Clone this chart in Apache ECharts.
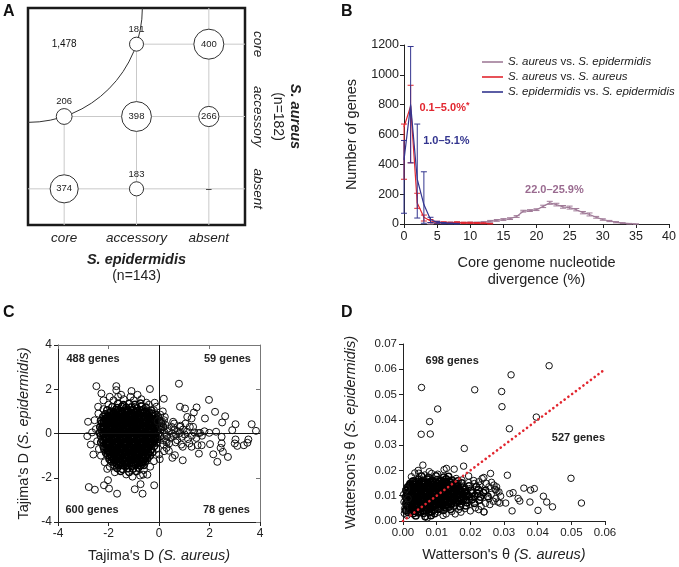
<!DOCTYPE html>
<html><head><meta charset="utf-8">
<script src="https://cdn.jsdelivr.net/npm/echarts@6/dist/echarts.min.js"></script>
<style>html,body{margin:0;padding:0;background:#fff}#c{width:679px;height:567px}</style>
</head><body><div id="c"></div>
<script>
// ---------- Panel A ----------
const aXCats = ['core', 'accessory', 'absent'];
const aYCats = ['absent', 'accessory', 'core'];
const aCircles = [
  ['accessory', 'core', 181], ['absent', 'core', 400],
  ['core', 'accessory', 206], ['accessory', 'accessory', 398], ['absent', 'accessory', 266],
  ['core', 'absent', 374], ['accessory', 'absent', 183]
];
const aPlain = [['core', 'core', '1,478'], ['absent', 'absent', '–']];

// ---------- Panel B : [x, mean, low, high] ----------
const bPurple = [[4,4,0,8],[5,8,3,13],[6,8,3,12],[7,9,4,13],[8,9,4,13],[9,7,3,11],[10,9,4,13],[11,9,4,13],[12,12,6,17],[13,18,12,24],[14,24,18,30],[15,30,24,36],[16,36,30,42],[17,50,44,56],[18,86,80,92],[19,90,84,96],[20,96,90,102],[21,118,110,126],[22,142,132,152],[23,130,121,139],[24,115,106,124],[25,110,100,120],[26,96,88,104],[27,76,68,84],[28,64,54,74],[29,45,39,51],[30,30,25,35],[31,20,16,24],[32,12,8,16],[33,6,3,9],[34,2,0,4],[35,0,0,0]];
const bRed = [[0,650,300,670],[1,790,410,930],[2,140,105,206],[3,45,20,60],[4,20,10,30],[5,12,6,18],[6,10,5,15],[7,8,4,12],[8,10,5,15],[9,8,4,12],[10,8,4,12],[11,6,3,10],[12,5,2,8],[13,2,0,4]];
const bBlue = [[0,430,72,560],[1,800,410,1190],[2,300,40,670],[3,130,5,350],[4,30,10,45],[5,12,5,18],[6,6,2,10],[7,4,1,6],[8,2,0,4]];
const bNames = ['S. aureus vs. S. epidermidis', 'S. aureus vs. S. aureus', 'S. epidermidis vs. S. epidermidis'];
const bNotes = [['0.1–5.0%{s|*}', 6.1, 778], ['1.0–5.1%', 6.4, 557], ['22.0–25.9%', 22.7, 228]];

// ---------- Panel C ----------
const cNotes = [['488 genes', -2.61, 3.37], ['59 genes', 2.71, 3.37], ['600 genes', -2.65, -3.46], ['78 genes', 2.67, -3.46]];
const cBlob = [
[-1.62,1.35],[-1.41,1.29],[-1.18,1.34],[-0.95,1.3],[-0.74,1.36],
[-1.85,1.2],[-1.66,1.15],[-1.47,1.21],[-1.3,1.16],[-1.09,1.19],[-0.88,1.14],[-0.69,1.22],[-0.52,1.17],
[-2.05,1.05],[-1.9,1.0],[-1.71,1.06],[-1.55,1.02],[-1.36,1.04],[-1.2,0.99],[-1.02,1.06],[-0.83,1.01],[-0.66,1.05],[-0.47,1.0],[-0.31,1.04],
[-2.12,0.87],[-1.97,0.92],[-1.8,0.86],[-1.62,0.9],[-1.45,0.88],[-1.29,0.93],[-1.11,0.87],[-0.96,0.91],[-0.78,0.86],[-0.62,0.92],[-0.45,0.88],[-0.28,0.9],[-0.12,0.85],
[-2.21,0.76],[-2.04,0.71],[-1.87,0.77],[-1.72,0.72],[-1.55,0.75],[-1.37,0.7],[-1.2,0.77],[-1.04,0.73],[-0.87,0.76],[-0.7,0.71],[-0.55,0.75],[-0.37,0.72],[-0.2,0.77],[-0.04,0.73],
[-2.3,0.58],[-2.13,0.63],[-1.96,0.57],[-1.79,0.61],[-1.63,0.59],[-1.46,0.62],[-1.29,0.57],[-1.13,0.61],[-0.97,0.58],[-0.8,0.63],[-0.63,0.59],[-0.47,0.6],[-0.31,0.56],[-0.15,0.62],[0.02,0.58],
[-2.26,0.47],[-2.09,0.42],[-1.92,0.46],[-1.74,0.43],[-1.58,0.48],[-1.41,0.44],[-1.24,0.46],[-1.07,0.42],[-0.91,0.47],[-0.74,0.43],[-0.58,0.46],[-0.41,0.44],[-0.24,0.48],[-0.08,0.42],[0.09,0.46],
[-2.33,0.29],[-2.17,0.33],[-2.0,0.3],[-1.83,0.32],[-1.66,0.28],[-1.5,0.33],[-1.33,0.29],[-1.16,0.32],[-1.0,0.3],[-0.83,0.34],[-0.66,0.28],[-0.5,0.31],[-0.33,0.33],[-0.17,0.29],[0.0,0.32],[0.16,0.3],
[-2.28,0.18],[-2.11,0.14],[-1.94,0.17],[-1.77,0.13],[-1.6,0.18],[-1.43,0.15],[-1.27,0.17],[-1.1,0.14],[-0.93,0.18],[-0.77,0.15],[-0.6,0.16],[-0.43,0.13],[-0.27,0.18],[-0.1,0.14],[0.07,0.17],
[-2.35,0.03],[-2.19,0.0],[-2.02,0.04],[-1.85,0.01],[-1.68,0.03],[-1.52,-0.01],[-1.35,0.04],[-1.18,0.0],[-1.01,0.03],[-0.85,0.01],[-0.68,0.04],[-0.51,-0.01],[-0.35,0.02],[-0.18,0.05],[-0.02,0.0],
[-2.3,-0.11],[-2.13,-0.15],[-1.96,-0.12],[-1.79,-0.14],[-1.62,-0.1],[-1.45,-0.15],[-1.29,-0.12],[-1.12,-0.14],[-0.95,-0.11],[-0.79,-0.15],[-0.62,-0.12],[-0.45,-0.14],[-0.28,-0.1],[-0.12,-0.15],[0.05,-0.12],
[-2.24,-0.29],[-2.07,-0.25],[-1.9,-0.28],[-1.73,-0.26],[-1.56,-0.3],[-1.4,-0.25],[-1.23,-0.29],[-1.06,-0.26],[-0.89,-0.28],[-0.72,-0.25],[-0.56,-0.3],[-0.39,-0.26],[-0.22,-0.28],[-0.06,-0.25],
[-2.29,-0.4],[-2.12,-0.44],[-1.95,-0.41],[-1.78,-0.43],[-1.61,-0.39],[-1.44,-0.44],[-1.28,-0.41],[-1.11,-0.43],[-0.94,-0.4],[-0.78,-0.44],[-0.61,-0.42],[-0.44,-0.39],[-0.27,-0.43],[-0.1,-0.41],
[-2.2,-0.58],[-2.03,-0.54],[-1.86,-0.57],[-1.69,-0.55],[-1.52,-0.59],[-1.36,-0.54],[-1.19,-0.58],[-1.02,-0.55],[-0.86,-0.57],[-0.69,-0.54],[-0.52,-0.58],[-0.35,-0.55],[-0.19,-0.57],
[-2.17,-0.69],[-2.0,-0.73],[-1.83,-0.7],[-1.66,-0.72],[-1.5,-0.68],[-1.33,-0.73],[-1.16,-0.7],[-0.99,-0.72],[-0.83,-0.69],[-0.66,-0.73],[-0.49,-0.7],[-0.32,-0.72],
[-2.1,-0.87],[-1.93,-0.83],[-1.76,-0.86],[-1.59,-0.84],[-1.42,-0.88],[-1.26,-0.83],[-1.09,-0.87],[-0.92,-0.84],[-0.76,-0.86],[-0.59,-0.83],[-0.42,-0.87],[-0.26,-0.85],
[-2.03,-0.98],[-1.87,-1.02],[-1.7,-0.99],[-1.53,-1.01],[-1.36,-0.97],[-1.2,-1.02],[-1.03,-0.99],[-0.86,-1.01],[-0.69,-0.98],[-0.53,-1.03],[-0.36,-0.99],
[-1.96,-1.16],[-1.79,-1.12],[-1.62,-1.15],[-1.46,-1.13],[-1.29,-1.17],[-1.12,-1.12],[-0.95,-1.16],[-0.79,-1.13],[-0.62,-1.15],[-0.46,-1.12],
[-1.88,-1.27],[-1.71,-1.31],[-1.54,-1.28],[-1.37,-1.3],[-1.21,-1.26],[-1.04,-1.31],[-0.87,-1.28],[-0.7,-1.3],[-0.54,-1.27],
[-1.77,-1.45],[-1.6,-1.41],[-1.43,-1.44],[-1.26,-1.42],[-1.09,-1.46],[-0.92,-1.41],[-0.75,-1.44],[-0.6,-1.42],
[-1.66,-1.56],[-1.45,-1.6],[-1.24,-1.57],[-1.03,-1.59],[-0.82,-1.55],
[-1.52,-1.7],[-1.18,-1.74],[-0.9,-1.71]
];
const cCore = [
[-1.8,0.97],[-1.63,0.95],[-1.46,0.98],[-1.28,0.96],[-1.11,0.94],[-0.93,0.97],[-0.75,0.95],[-0.57,0.98],[-0.4,0.95],
[-2.0,0.8],[-1.83,0.82],[-1.66,0.79],[-1.49,0.83],[-1.31,0.8],[-1.14,0.82],[-0.96,0.79],[-0.79,0.83],[-0.62,0.8],[-0.45,0.82],[-0.29,0.8],
[-2.13,0.68],[-1.96,0.66],[-1.79,0.69],[-1.62,0.66],[-1.45,0.68],[-1.28,0.65],[-1.12,0.69],[-0.95,0.66],[-0.78,0.68],[-0.61,0.65],[-0.44,0.69],[-0.27,0.66],[-0.11,0.68],
[-2.18,0.53],[-2.01,0.5],[-1.84,0.54],[-1.67,0.51],[-1.5,0.53],[-1.33,0.5],[-1.16,0.54],[-0.99,0.51],[-0.83,0.53],[-0.66,0.5],[-0.49,0.54],[-0.32,0.51],[-0.16,0.53],
[-2.22,0.37],[-2.05,0.39],[-1.88,0.36],[-1.71,0.4],[-1.54,0.37],[-1.37,0.39],[-1.2,0.36],[-1.03,0.4],[-0.87,0.37],[-0.7,0.39],[-0.53,0.36],[-0.36,0.4],[-0.2,0.37],
[-2.2,0.24],[-2.03,0.22],[-1.86,0.25],[-1.69,0.22],[-1.52,0.24],[-1.35,0.21],[-1.18,0.25],[-1.01,0.22],[-0.85,0.24],[-0.68,0.21],[-0.51,0.25],[-0.34,0.22],[-0.18,0.24],
[-2.24,0.08],[-2.07,0.1],[-1.9,0.07],[-1.73,0.11],[-1.56,0.08],[-1.39,0.1],[-1.22,0.07],[-1.05,0.11],[-0.89,0.08],[-0.72,0.1],[-0.55,0.07],[-0.38,0.11],[-0.22,0.08],[-0.08,0.1],
[-2.2,-0.05],[-2.03,-0.07],[-1.87,-0.04],[-1.7,-0.08],[-1.53,-0.05],[-1.36,-0.07],[-1.2,-0.04],[-1.03,-0.08],[-0.86,-0.05],[-0.7,-0.07],[-0.53,-0.04],[-0.36,-0.08],[-0.2,-0.05],
[-2.15,-0.21],[-1.98,-0.19],[-1.81,-0.22],[-1.64,-0.19],[-1.48,-0.21],[-1.31,-0.18],[-1.14,-0.22],[-0.97,-0.19],[-0.81,-0.21],[-0.64,-0.18],[-0.47,-0.22],[-0.3,-0.19],[-0.14,-0.21],
[-2.18,-0.34],[-2.01,-0.36],[-1.84,-0.33],[-1.67,-0.37],[-1.5,-0.34],[-1.33,-0.36],[-1.17,-0.33],[-1.0,-0.37],[-0.83,-0.34],[-0.66,-0.36],[-0.5,-0.33],[-0.33,-0.37],[-0.18,-0.34],
[-2.1,-0.5],[-1.93,-0.48],[-1.76,-0.51],[-1.59,-0.48],[-1.42,-0.5],[-1.25,-0.47],[-1.09,-0.51],[-0.92,-0.48],[-0.75,-0.5],[-0.58,-0.47],[-0.42,-0.51],[-0.26,-0.48],
[-2.08,-0.63],[-1.91,-0.65],[-1.74,-0.62],[-1.57,-0.66],[-1.41,-0.63],[-1.24,-0.65],[-1.07,-0.62],[-0.9,-0.66],[-0.74,-0.63],[-0.57,-0.65],[-0.4,-0.62],
[-2.03,-0.79],[-1.86,-0.77],[-1.69,-0.8],[-1.52,-0.77],[-1.35,-0.79],[-1.18,-0.76],[-1.01,-0.8],[-0.85,-0.77],[-0.68,-0.79],[-0.51,-0.76],[-0.35,-0.8],
[-1.95,-0.92],[-1.78,-0.94],[-1.61,-0.91],[-1.45,-0.95],[-1.28,-0.92],[-1.11,-0.94],[-0.94,-0.91],[-0.78,-0.95],[-0.61,-0.92],[-0.45,-0.94],
[-1.87,-1.08],[-1.7,-1.06],[-1.54,-1.09],[-1.37,-1.06],[-1.2,-1.08],[-1.03,-1.05],[-0.87,-1.09],[-0.7,-1.06],[-0.54,-1.08],
[-1.79,-1.21],[-1.62,-1.23],[-1.45,-1.2],[-1.29,-1.24],[-1.12,-1.21],[-0.95,-1.23],[-0.79,-1.2],[-0.62,-1.24],
[-1.68,-1.37],[-1.51,-1.35],[-1.35,-1.38],[-1.18,-1.35],[-1.0,-1.37],[-0.84,-1.34],[-0.68,-1.38]
];
const cFringe = [[-2.5,0.2],[-2.45,-0.35],[-2.55,0.6],[-2.4,0.9],[-2.38,-0.7],[-2.3,-1.0],[-2.2,1.1],[-2.15,-1.3],[-2.0,1.3],[-1.95,-1.5],[-1.8,1.5],[-1.4,1.55],[-1.0,1.5],[-0.7,1.55],[-0.4,1.3],[-0.2,1.05],[0.05,0.85],[0.2,0.6],[0.3,-0.4],[0.2,-0.8],[0.0,-0.95],[-0.2,-1.25],[-0.35,-1.5],[-0.6,-1.65],[-0.75,-1.9],[-1.05,-1.95],[-1.3,-1.85],[-1.75,-1.75],[-2.05,-1.6],[-2.6,-0.95],[-2.65,0.05],[-2.7,-0.5],[-0.1,-0.7],[-0.05,0.55],[0.15,1.0],[-1.5,1.75],[-0.85,1.75],[-2.2,1.5]];
const cTail = [[0.22,0.05],[0.31,-0.1],[0.4,0.1],[0.35,0.22],[0.28,-0.3],[0.45,-0.2],[0.52,0.0],[0.6,0.15],[0.58,-0.12],[0.68,-0.05],[0.75,0.1],[0.72,-0.3],[0.82,0.02],[0.9,-0.15],[0.95,0.18],[1.02,-0.05],[1.1,0.08],[1.15,-0.25],[1.22,0.3],[1.3,-0.1],[1.4,0.05],[1.48,-0.2],[0.25,0.4],[0.18,-0.5],[0.4,-0.45],[0.6,0.45],[0.85,0.35],[0.88,-0.5],[1.05,0.45],[1.2,-0.45],[0.12,0.55],[0.3,-0.65],[0.5,0.3],[0.66,-0.4],[1.35,0.3],[1.55,0.02],[1.7,-0.1],[1.8,0.1],[0.15,-0.3],[0.08,0.3]];
const cOutliers = [[0.79,2.25],[1.98,1.52],[0.19,1.57],[0.83,1.21],[1.49,1.18],[2.22,0.98],[2.62,0.78],[3.03,0.42],[3.67,0.42],[3.84,0.12],[2.9,0.15],[2.5,0.5],[1.82,0.68],[1.38,0.95],[1.29,0.68],[1.12,0.75],[1.62,0.03],[1.99,0.03],[2.26,0.08],[2.48,-0.15],[3.03,-0.27],[3.54,-0.27],[3.5,-0.42],[3.36,-0.53],[3.1,-0.56],[3.0,-0.45],[2.48,-0.45],[2.44,-0.65],[2.53,-0.83],[2.15,-0.94],[2.31,-1.28],[2.73,-1.06],[2.02,-0.48],[1.58,-0.91],[1.69,-0.53],[1.53,-0.53],[1.29,-0.6],[0.94,-1.21],[0.53,-1.1],[0.03,-1.16],[-0.19,-2.34],[-0.65,-2.72],[-0.96,-2.52],[-0.73,-2.29],[-0.63,-1.86],[-0.46,-1.86],[-1.66,-2.72],[-2.02,-2.11],[-2.18,-2.34],[-1.98,-2.49],[-2.54,-2.54],[-2.78,-2.42],[-2.48,2.14],[-2.28,1.81],[-1.69,2.14],[-1.69,1.96],[-1.09,1.92],[-0.36,2.01],[-2.81,0.53],[-2.84,-0.12],[-2.41,1.21],[-1.95,1.66],[-1.62,1.66],[-1.13,1.66],[-0.5,1.39],[-0.17,1.39],[-0.1,1.21],[1.03,1.13],[0.83,0.3],[0.56,0.53],[0.23,0.75],[0.94,-0.6],[0.63,-0.98],[0.39,-0.78]];

// ---------- Panel D ----------
const dDiagonal = [[0, 0], [0.06, 0.06]];
const dNotes = [['698 genes', 0.0146, 0.0633], ['527 genes', 0.0521, 0.0327]];
const dBlob = [
[0.0055,0.0177],[0.0076,0.0172],[0.0098,0.0178],[0.0121,0.0173],[0.0135,0.0176],
[0.0032,0.0158],[0.0046,0.0164],[0.006,0.016],[0.0073,0.0165],[0.0087,0.0159],[0.0101,0.0163],[0.0114,0.016],[0.0128,0.0166],[0.0145,0.0161],[0.0163,0.0158],
[0.0021,0.0147],[0.0035,0.0151],[0.0048,0.0146],[0.0062,0.015],[0.0075,0.0148],[0.0089,0.0152],[0.0103,0.0147],[0.0116,0.015],[0.013,0.0146],[0.0143,0.0151],[0.0158,0.0148],[0.0174,0.015],
[0.0014,0.0134],[0.0027,0.0138],[0.0041,0.0135],[0.0054,0.0137],[0.0068,0.0133],[0.0081,0.0138],[0.0095,0.0135],[0.0109,0.0137],[0.0122,0.0134],[0.0136,0.0139],[0.0149,0.0135],[0.0163,0.0137],[0.0178,0.0133],[0.0196,0.0138],[0.0218,0.0135],
[0.0009,0.0121],[0.0022,0.0125],[0.0036,0.0122],[0.0049,0.0124],[0.0063,0.012],[0.0076,0.0125],[0.009,0.0122],[0.0103,0.0124],[0.0117,0.0121],[0.0131,0.0126],[0.0144,0.0122],[0.0158,0.0124],[0.0171,0.012],[0.0185,0.0125],[0.0202,0.0122],[0.0224,0.0124],[0.0245,0.0121],
[0.0013,0.0112],[0.0026,0.0108],[0.004,0.0111],[0.0053,0.0109],[0.0067,0.0113],[0.008,0.0108],[0.0094,0.0111],[0.0108,0.0109],[0.0121,0.0112],[0.0135,0.0107],[0.0148,0.0111],[0.0162,0.0109],[0.0175,0.0113],[0.0189,0.0108],[0.0206,0.0111],[0.0221,0.0109],[0.0239,0.0112],
[0.0008,0.0095],[0.0021,0.0099],[0.0035,0.0096],[0.0048,0.0098],[0.0062,0.0094],[0.0075,0.0099],[0.0089,0.0096],[0.0102,0.0098],[0.0116,0.0095],[0.013,0.01],[0.0143,0.0096],[0.0157,0.0098],[0.017,0.0094],[0.0184,0.0099],[0.0198,0.0096],[0.0213,0.0098],[0.023,0.0095],[0.0252,0.0097],
[0.0012,0.0086],[0.0025,0.0082],[0.0039,0.0085],[0.0052,0.0083],[0.0066,0.0087],[0.0079,0.0082],[0.0093,0.0085],[0.0107,0.0083],[0.012,0.0086],[0.0134,0.0081],[0.0147,0.0085],[0.0161,0.0083],[0.0174,0.0086],[0.0188,0.0082],[0.0205,0.0085],[0.0226,0.0083],
[0.0009,0.0069],[0.0022,0.0073],[0.0036,0.007],[0.0049,0.0072],[0.0063,0.0068],[0.0076,0.0073],[0.009,0.007],[0.0103,0.0072],[0.0117,0.0069],[0.0131,0.0074],[0.0144,0.007],[0.0158,0.0072],[0.0173,0.0068],[0.019,0.0073],[0.0212,0.007],
[0.0013,0.006],[0.0026,0.0056],[0.004,0.0059],[0.0053,0.0057],[0.0067,0.0061],[0.008,0.0056],[0.0094,0.0059],[0.0108,0.0057],[0.0121,0.006],[0.0136,0.0055],[0.0152,0.0059],[0.0169,0.0057],[0.0187,0.006],
[0.0008,0.0043],[0.0021,0.0047],[0.0035,0.0044],[0.0048,0.0046],[0.0062,0.0042],[0.0075,0.0047],[0.0089,0.0044],[0.0104,0.0046],[0.012,0.0043],[0.0141,0.0046],
[0.0016,0.0034],[0.003,0.003],[0.0046,0.0033],[0.0061,0.0031],[0.0077,0.0034],[0.0094,0.003],
[0.0038,0.0021],[0.0066,0.0018],[0.0083,0.0022]
];
const dCore = [
[0.0028,0.0156],[0.0041,0.0154],[0.0055,0.0157],[0.0068,0.0154],[0.0082,0.0156],[0.0096,0.0153],[0.0109,0.0157],[0.0123,0.0154],[0.0137,0.0156],
[0.002,0.0141],[0.0034,0.0143],[0.0047,0.014],[0.0061,0.0144],[0.0074,0.0141],[0.0088,0.0143],[0.0102,0.014],[0.0115,0.0144],[0.0129,0.0141],[0.0142,0.0143],[0.0156,0.0141],
[0.0015,0.013],[0.0029,0.0128],[0.0042,0.0131],[0.0056,0.0128],[0.007,0.013],[0.0083,0.0127],[0.0097,0.0131],[0.011,0.0128],[0.0124,0.013],[0.0137,0.0127],[0.0151,0.0131],[0.0165,0.0128],
[0.0019,0.0115],[0.0033,0.0117],[0.0046,0.0114],[0.006,0.0118],[0.0073,0.0115],[0.0087,0.0117],[0.0101,0.0114],[0.0114,0.0118],[0.0128,0.0115],[0.0141,0.0117],[0.0155,0.0114],[0.0169,0.0118],[0.0183,0.0115],
[0.0014,0.0104],[0.0028,0.0102],[0.0041,0.0105],[0.0055,0.0102],[0.0068,0.0104],[0.0082,0.0101],[0.0095,0.0105],[0.0109,0.0102],[0.0123,0.0104],[0.0136,0.0101],[0.015,0.0105],[0.0164,0.0102],[0.0177,0.0104],[0.0192,0.0101],
[0.0018,0.0089],[0.0032,0.0091],[0.0045,0.0088],[0.0059,0.0092],[0.0072,0.0089],[0.0086,0.0091],[0.01,0.0088],[0.0113,0.0092],[0.0127,0.0089],[0.014,0.0091],[0.0154,0.0088],[0.0168,0.0092],[0.0181,0.0089],
[0.0015,0.0078],[0.0029,0.0076],[0.0042,0.0079],[0.0056,0.0076],[0.007,0.0078],[0.0083,0.0075],[0.0097,0.0079],[0.011,0.0076],[0.0124,0.0078],[0.0138,0.0075],[0.0151,0.0079],[0.0166,0.0076],
[0.0019,0.0063],[0.0033,0.0065],[0.0046,0.0062],[0.006,0.0066],[0.0073,0.0063],[0.0087,0.0065],[0.0101,0.0062],[0.0114,0.0066],[0.0128,0.0063],[0.0143,0.0065],
[0.0015,0.0052],[0.0028,0.005],[0.0042,0.0053],[0.0055,0.005],[0.0069,0.0052],[0.0082,0.0049],[0.0096,0.0053],[0.0111,0.005],[0.0127,0.0052],
[0.0024,0.0037],[0.0038,0.0039],[0.0053,0.0036],[0.0069,0.004],[0.0085,0.0037]
];
const dEdge = [[0.0129,0.0208],[0.0122,0.0203],[0.0078,0.0195],[0.0085,0.0188],[0.0103,0.0185],[0.0065,0.0182],[0.024,0.0172],[0.0235,0.0168],[0.0263,0.0153],[0.0275,0.0124],[0.0279,0.0118],[0.0276,0.0089],[0.024,0.0036],[0.0184,0.0049],[0.0119,0.0022],[0.0072,0.0012],[0.0015,0.0089],[0.0005,0.0049],[0.001,0.0128],[0.0012,0.0022],[0.0158,0.0168],[0.0175,0.0162],[0.0195,0.0152],[0.0212,0.0148],[0.0228,0.0142],[0.0255,0.0135],[0.0262,0.0105],[0.0268,0.0078],[0.0258,0.0065],[0.0232,0.0058],[0.0215,0.0052],[0.0198,0.0066],[0.0165,0.0045],[0.0145,0.0038],[0.0128,0.0028],[0.0105,0.0035],[0.0152,0.0205],[0.0045,0.02],
[0.0195,0.0178],[0.021,0.016],[0.0225,0.0155],[0.0248,0.0148],[0.027,0.0142],[0.0285,0.0115],[0.029,0.0098],[0.0255,0.0088],[0.0245,0.007],[0.0225,0.0045],[0.02,0.004],[0.0172,0.0035],[0.0155,0.0028],[0.0025,0.0175],[0.0035,0.019],[0.0002,0.0105],[0.0003,0.0075],[0.0004,0.003]];
const dOutliers = [[0.0434,0.0614],[0.0321,0.0578],[0.0055,0.0528],[0.0213,0.0519],[0.0293,0.0512],[0.0294,0.0452],[0.0103,0.0443],[0.0396,0.0411],[0.0079,0.0393],[0.0316,0.0365],[0.0054,0.0343],[0.0081,0.0344],[0.0182,0.0287],[0.018,0.0217],[0.0059,0.0221],[0.0047,0.0189],[0.026,0.0188],[0.031,0.0181],[0.0499,0.0169],[0.0359,0.013],[0.0379,0.0122],[0.039,0.0128],[0.0417,0.0098],[0.0427,0.0075],[0.0444,0.0056],[0.0401,0.0042],[0.0377,0.0075],[0.0347,0.0079],[0.0342,0.0089],[0.053,0.0071],[0.0324,0.004],[0.0327,0.0112],[0.0317,0.0108],[0.0305,0.0071],[0.0288,0.0071],[0.0282,0.0075],[0.0241,0.0036],[0.0273,0.0126],[0.0278,0.0135]];

// ---------- chart ----------
const FONT = 'Liberation Sans, Arial, Helvetica, sans-serif';
const INK = '#222';
const RED = '#e2262f', BLUE = '#33358f', PURPLE = '#a07b98';

function errRender(color) {
  return function (params, api) {
    const x = api.value(0), lo = api.value(2), hi = api.value(3);
    const p1 = api.coord([x, lo]), p2 = api.coord([x, hi]);
    const w = 3, st = {stroke: color, lineWidth: 1};
    return {type: 'group', children: [
      {type: 'line', shape: {x1: p1[0], y1: p1[1], x2: p2[0], y2: p2[1]}, style: st},
      {type: 'line', shape: {x1: p1[0] - w, y1: p1[1], x2: p1[0] + w, y2: p1[1]}, style: st},
      {type: 'line', shape: {x1: p2[0] - w, y1: p2[1], x2: p2[0] + w, y2: p2[1]}, style: st}
    ]};
  };
}
// Panel A: grid lines through category centres (kept outside the core/core arc) plus the arc
function aFrameRender(params, api) {
  const cs = params.coordSys;
  const cx = cs.x, cy = cs.y;
  const p = api.coord(['core', 'accessory']);
  const r = Math.hypot(p[0] - cx, p[1] - cy);
  const gridStyle = {stroke: '#c9c9c9', lineWidth: 1};
  const children = [];
  aXCats.forEach(c => {
    const X = api.coord([c, 'core'])[0];
    const dx = X - cx;
    const y0 = dx < r ? cy + Math.sqrt(r * r - dx * dx) : cs.y;
    children.push({type: 'line', shape: {x1: X, y1: y0, x2: X, y2: cs.y + cs.height}, style: gridStyle});
  });
  aYCats.forEach(c => {
    const Y = api.coord(['core', c])[1];
    const dy = Y - cy;
    const x0 = dy < r ? cx + Math.sqrt(r * r - dy * dy) : cs.x;
    children.push({type: 'line', shape: {x1: x0, y1: Y, x2: cs.x + cs.width, y2: Y}, style: gridStyle});
  });
  children.push({type: 'arc', shape: {cx: cx, cy: cy, r: r, startAngle: 0, endAngle: Math.PI / 2},
                 style: {stroke: '#333', fill: null, lineWidth: 1}});
  return {type: 'group', children: children};
}
const ringStyle = {color: 'rgba(0,0,0,0)', borderColor: '#111', borderWidth: 1, opacity: 1};
const denseRingStyle = {color: 'rgba(0,0,0,0)', borderColor: '#000', borderWidth: 1.5, opacity: 1};
const valAxisCommon = {
  axisLine: {onZero: false, lineStyle: {color: INK, width: 1}},
  axisTick: {show: true, inside: false, length: 4, lineStyle: {color: INK}},
  axisLabel: {color: INK, fontFamily: FONT, fontSize: 12, margin: 6},
  splitLine: {show: false},
  nameLocation: 'middle',
  nameTextStyle: {color: INK, fontFamily: FONT, fontSize: 14.5, rich: {i: {fontStyle: 'italic', fontFamily: FONT, fontSize: 14.5, color: INK}}}
};

const chart = echarts.init(document.getElementById('c'), null, {renderer: 'canvas'});
const option = {
  animation: false,
  backgroundColor: '#fff',
  textStyle: {fontFamily: FONT},
  graphic: [
    {type: 'text', left: 3, top: 4, style: {text: 'A', font: 'bold 16px ' + FONT, fill: '#111'}},
    {type: 'text', left: 341, top: 4, style: {text: 'B', font: 'bold 16px ' + FONT, fill: '#111'}},
    {type: 'text', left: 3, top: 305, style: {text: 'C', font: 'bold 16px ' + FONT, fill: '#111'}},
    {type: 'text', left: 341, top: 305, style: {text: 'D', font: 'bold 16px ' + FONT, fill: '#111'}}
  ],
  grid: [
    {left: 28, top: 8, width: 217, height: 217, show: true, borderColor: '#1a1a1a', borderWidth: 2.5, backgroundColor: 'rgba(0,0,0,0)'},
    {left: 404, top: 45, width: 271, height: 179},
    {left: 58, top: 345, width: 202, height: 177},
    {left: 403, top: 344, width: 202, height: 177}
  ],
  legend: {
    orient: 'vertical', left: 477, top: 51, itemGap: 3, itemWidth: 21, itemHeight: 1.6, icon: 'rect',
    data: bNames,
    formatter: n => n.replace(/(S\. \w+)/g, '{i|$1}'),
    textStyle: {fontFamily: FONT, fontSize: 11.5, color: INK, rich: {i: {fontStyle: 'italic', fontFamily: FONT, fontSize: 11.5, color: INK}}}
  },
  xAxis: [
    {type: 'category', gridIndex: 0, data: aXCats, boundaryGap: true,
     axisLine: {show: false}, axisTick: {show: false}, splitLine: {show: false},
     axisLabel: {interval: 0, fontStyle: 'italic', fontSize: 13.5, color: INK, fontFamily: FONT, margin: 6},
     name: '{b|S. epidermidis}\n{n|(n=143)}', nameLocation: 'middle', nameGap: 26,
     nameTextStyle: {rich: {b: {fontWeight: 'bold', fontStyle: 'italic', fontSize: 14.5, color: INK, fontFamily: FONT, lineHeight: 17}, n: {fontSize: 14, color: INK, fontFamily: FONT, lineHeight: 17}}}},
    Object.assign({}, valAxisCommon, {type: 'value', gridIndex: 1, min: 0, max: 40, interval: 5,
     name: 'Core genome nucleotide\ndivergence (%)', nameGap: 30,
     nameTextStyle: {color: INK, fontFamily: FONT, fontSize: 14.5, lineHeight: 17},
     axisLabel: {color: INK, fontFamily: FONT, fontSize: 12.5, margin: 6}}),
    Object.assign({}, valAxisCommon, {type: 'value', gridIndex: 2, min: -4, max: 4, interval: 2,
     name: "Tajima's D {i|(S. aureus)}", nameGap: 26}),
    {type: 'value', gridIndex: 2, position: 'top', min: -4, max: 4, interval: 2,
     axisLine: {onZero: false, lineStyle: {color: '#777'}}, axisTick: {inside: true, length: 4, lineStyle: {color: '#777'}},
     axisLabel: {show: false}, splitLine: {show: false}},
    Object.assign({}, valAxisCommon, {type: 'value', gridIndex: 3, min: 0, max: 0.06, interval: 0.01,
     name: "Watterson's θ {i|(S. aureus)}", nameGap: 26,
     axisLabel: {color: INK, fontFamily: FONT, fontSize: 11.5, margin: 6, formatter: v => v.toFixed(2)}})
  ],
  yAxis: [
    {type: 'category', gridIndex: 0, data: aYCats, position: 'right', boundaryGap: true,
     axisLine: {show: false}, axisTick: {show: false}, splitLine: {show: false},
     axisLabel: {interval: 0, fontStyle: 'italic', fontSize: 13.5, color: INK, fontFamily: FONT, rotate: -90, margin: 6},
     name: '{b|S. aureus}\n{n|(n=182)}', nameLocation: 'middle', nameRotate: -90, nameGap: 24,
     nameTextStyle: {rich: {b: {fontWeight: 'bold', fontStyle: 'italic', fontSize: 14.5, color: INK, fontFamily: FONT, lineHeight: 17}, n: {fontSize: 14, color: INK, fontFamily: FONT, lineHeight: 17}}}},
    Object.assign({}, valAxisCommon, {type: 'value', gridIndex: 1, min: 0, max: 1200, interval: 200,
     name: 'Number of genes', nameGap: 45,
     axisLabel: {color: INK, fontFamily: FONT, fontSize: 12.5, margin: 5, formatter: v => String(v)}}),
    Object.assign({}, valAxisCommon, {type: 'value', gridIndex: 2, min: -4, max: 4, interval: 2,
     name: "Tajima's D {i|(S. epidermidis)}", nameGap: 27}),
    {type: 'value', gridIndex: 2, position: 'right', min: -4, max: 4, interval: 2,
     axisLine: {onZero: false, lineStyle: {color: '#777'}}, axisTick: {inside: true, length: 4, lineStyle: {color: '#777'}},
     axisLabel: {show: false}, splitLine: {show: false}},
    Object.assign({}, valAxisCommon, {type: 'value', gridIndex: 3, min: 0, max: 0.07, interval: 0.01,
     name: "Watterson's θ {i|(S. epidermidis)}", nameGap: 45,
     axisLabel: {color: INK, fontFamily: FONT, fontSize: 11.5, margin: 6, formatter: v => v.toFixed(2)}})
  ],
  series: [
    // ---- A ----
    {type: 'custom', xAxisIndex: 0, yAxisIndex: 0, z: 1, silent: true, data: [['core', 'core']],
     renderItem: aFrameRender},
    {type: 'scatter', xAxisIndex: 0, yAxisIndex: 0, z: 5, symbolSize: 0, silent: true,
     itemStyle: {opacity: 1},
     data: aPlain.map(d => ({value: [d[0], d[1]], name: d[2]})),
     label: {show: true, position: 'inside', formatter: p => p.name, fontSize: 10, color: '#111', fontFamily: FONT}},
    {type: 'scatter', xAxisIndex: 0, yAxisIndex: 0, z: 10, silent: true,
     data: aCircles.map(d => ({value: d, label: {position: d[2] < 250 ? 'top' : 'inside', distance: 2}})),
     symbolSize: v => 14 + (v[2] - 181) * 0.073,
     itemStyle: {color: '#fff', borderColor: '#333', borderWidth: 1, opacity: 1},
     label: {show: true, formatter: p => p.value[2], fontSize: 9.5, color: INK, fontFamily: FONT}},
    // ---- B ----
    {name: bNames[0], type: 'line', xAxisIndex: 1, yAxisIndex: 1, symbol: 'none', color: PURPLE,
     lineStyle: {width: 1.2, color: PURPLE}, data: bPurple.map(d => [d[0], d[1]]), z: 2},
    {name: 'errP', type: 'custom', xAxisIndex: 1, yAxisIndex: 1, renderItem: errRender(PURPLE),
     encode: {x: 0, y: [1, 2, 3]}, data: bPurple, z: 2},
    {name: bNames[1], type: 'line', xAxisIndex: 1, yAxisIndex: 1, symbol: 'none', color: RED,
     lineStyle: {width: 1.2, color: RED}, data: bRed.map(d => [d[0], d[1]]), z: 3},
    {name: 'errR', type: 'custom', xAxisIndex: 1, yAxisIndex: 1, renderItem: errRender(RED),
     encode: {x: 0, y: [1, 2, 3]}, data: bRed, z: 3},
    {name: bNames[2], type: 'line', xAxisIndex: 1, yAxisIndex: 1, symbol: 'none', color: BLUE,
     lineStyle: {width: 1.2, color: BLUE}, data: bBlue.map(d => [d[0], d[1]]), z: 4},
    {name: 'errB', type: 'custom', xAxisIndex: 1, yAxisIndex: 1, renderItem: errRender(BLUE),
     encode: {x: 0, y: [1, 2, 3]}, data: bBlue, z: 4},
    {type: 'scatter', xAxisIndex: 1, yAxisIndex: 1, symbolSize: 0, silent: true, z: 6,
     itemStyle: {opacity: 1},
     data: bNotes.map((d, i) => ({value: [d[1], d[2]], name: d[0],
       label: {color: [RED, BLUE, '#9a6b90'][i], rich: {s: {fontSize: 9, fontWeight: 'bold', color: RED, padding: [0, 0, 5, 0]}}}})),
     label: {show: true, position: 'inside', formatter: p => p.name, fontWeight: 'bold', fontSize: 11, fontFamily: FONT}},
    // ---- C ----
    {type: 'scatter', xAxisIndex: 2, yAxisIndex: 2, symbol: 'circle', symbolSize: 7, silent: true,
     itemStyle: denseRingStyle, data: cBlob.concat(cCore), z: 3},
    {type: 'scatter', xAxisIndex: 2, yAxisIndex: 2, symbol: 'circle', symbolSize: 7, silent: true,
     itemStyle: ringStyle, data: cFringe.concat(cTail, cOutliers), z: 3,
     markLine: {silent: true, symbol: 'none', label: {show: false}, animation: false,
       lineStyle: {color: '#111', width: 1, type: 'solid'}, data: [{xAxis: 0}, {yAxis: 0}]}},
    {type: 'scatter', xAxisIndex: 2, yAxisIndex: 2, symbolSize: 0, silent: true, z: 5,
     itemStyle: {opacity: 1},
     data: cNotes.map(d => ({value: [d[1], d[2]], name: d[0]})),
     label: {show: true, position: 'inside', formatter: p => p.name, fontWeight: 'bold', fontSize: 11, color: INK, fontFamily: FONT}},
    // ---- D ----
    {type: 'scatter', xAxisIndex: 4, yAxisIndex: 4, symbol: 'circle', symbolSize: 6.5, silent: true,
     itemStyle: denseRingStyle, data: dBlob.concat(dCore), z: 3},
    {type: 'scatter', xAxisIndex: 4, yAxisIndex: 4, symbol: 'circle', symbolSize: 6.5, silent: true,
     itemStyle: ringStyle, data: dEdge.concat(dOutliers), z: 3},
    {type: 'line', xAxisIndex: 4, yAxisIndex: 4, symbol: 'none', silent: true, z: 4, data: dDiagonal,
     lineStyle: {color: RED, width: 2.6, type: [0.1, 4.6], cap: 'round'}},
    {type: 'scatter', xAxisIndex: 4, yAxisIndex: 4, symbolSize: 0, silent: true, z: 5,
     itemStyle: {opacity: 1},
     data: dNotes.map(d => ({value: [d[1], d[2]], name: d[0]})),
     label: {show: true, position: 'inside', formatter: p => p.name, fontWeight: 'bold', fontSize: 11, color: INK, fontFamily: FONT}}
  ]
};
chart.setOption(option);
</script></body></html>
